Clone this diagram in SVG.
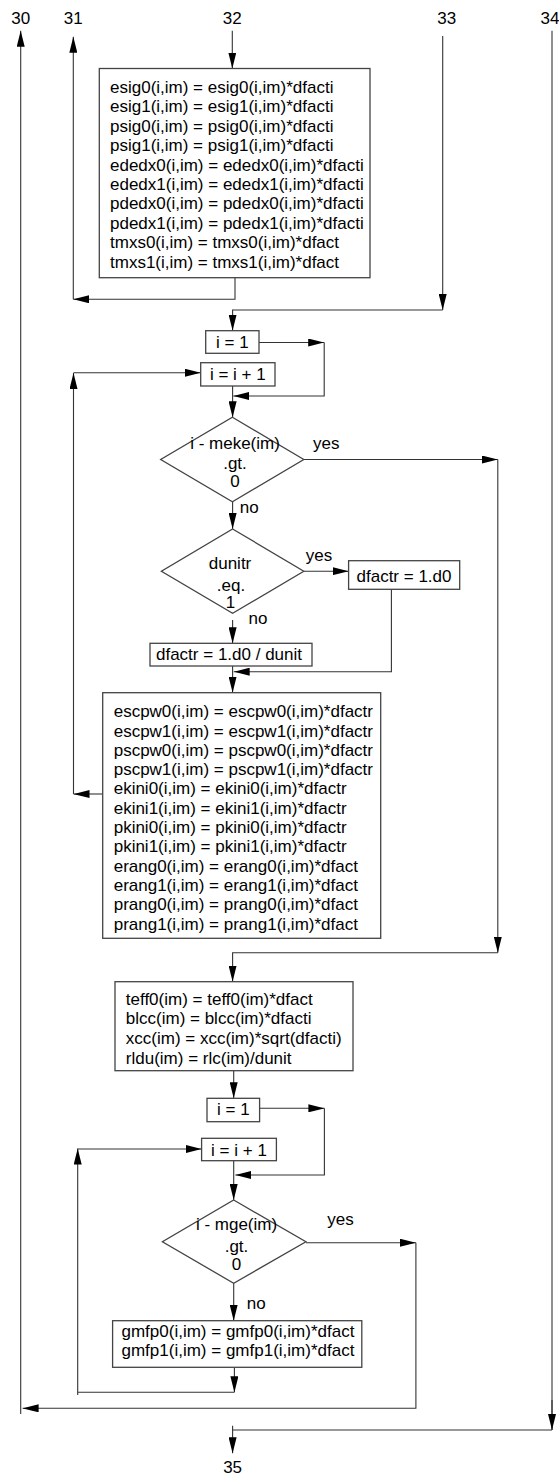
<svg xmlns="http://www.w3.org/2000/svg" width="559" height="1478" viewBox="0 0 559 1478">
<style>
text{font-family:"Liberation Sans",Arial,sans-serif;font-size:17px;fill:#000}
.c{text-anchor:middle}
.box{fill:#fff;stroke:#444;stroke-width:1.3}
.ln{fill:none;stroke:#333;stroke-width:1.1}
.ar{fill:none;stroke:#333;stroke-width:1.1;marker-end:url(#ah)}
</style>
<defs>
<marker id="ah" markerUnits="userSpaceOnUse" markerWidth="16" markerHeight="8" refX="16" refY="4" orient="auto">
<path d="M0,0 L16,4 L0,8 z" fill="#000"/>
</marker>
</defs>
<rect width="559" height="1478" fill="#fff"/>
<g id="connectors">
<line class="ar" x1="20.7" y1="1414" x2="20.7" y2="30.7"/>
<line class="ar" x1="73.3" y1="299.3" x2="73.3" y2="36.7"/>
<line class="ar" x1="232.3" y1="30.7" x2="232.3" y2="68.5"/>
<line class="ar" x1="442.7" y1="36" x2="442.7" y2="310"/>
<polyline class="ln" points="552,30.7 552,1430"/>
<polyline class="ar" points="235,277.7 235,299.3 73.3,299.3"/>
<polyline class="ar" points="442.7,310 232.6,310 232.6,330.7"/>
<polyline class="ar" points="259,342.5 324.2,342.5"/>
<polyline class="ar" points="324.2,342.5 324.2,396 233.4,396"/>
<line class="ar" x1="232.6" y1="386" x2="232.6" y2="417.3"/>
<line class="ar" x1="102.7" y1="794" x2="73.5" y2="794"/>
<line class="ar" x1="73.5" y1="794" x2="73.5" y2="373"/>
<line class="ar" x1="73.5" y1="372.7" x2="200.7" y2="372.7"/>
<line class="ar" x1="303.8" y1="459.5" x2="497.8" y2="459.5"/>
<line class="ar" x1="497.8" y1="459.5" x2="497.8" y2="952.7"/>
<polyline class="ar" points="497.8,952.7 232.6,952.7 232.6,981.7"/>
<line class="ar" x1="232.6" y1="501.7" x2="232.6" y2="529"/>
<line class="ar" x1="303.8" y1="571.2" x2="348.6" y2="571.2"/>
<polyline class="ar" points="391.4,589.3 391.4,671.7 233.7,671.7"/>
<line class="ar" x1="232.6" y1="620" x2="232.6" y2="643.3"/>
<line class="ar" x1="232.6" y1="666" x2="232.6" y2="692.7"/>
<line class="ar" x1="233.7" y1="1070.7" x2="233.7" y2="1098.3"/>
<polyline class="ar" points="259.6,1108.3 324.4,1108.3"/>
<polyline class="ar" points="324.4,1108.3 324.4,1175 235.4,1175"/>
<line class="ar" x1="233.7" y1="1160.7" x2="233.7" y2="1200"/>
<line class="ar" x1="305.9" y1="1242.7" x2="415.9" y2="1242.7"/>
<polyline class="ar" points="415.9,1242.7 415.9,1408.3 22.6,1408.3"/>
<line class="ar" x1="233.7" y1="1283.3" x2="233.7" y2="1320.7"/>
<line class="ar" x1="234.4" y1="1367.3" x2="234.4" y2="1392.3"/>
<polyline class="ar" points="234.4,1392.3 77.7,1392.3 77.7,1148.5"/>
<line class="ln" x1="77.7" y1="1392.3" x2="77.7" y2="1395"/>
<line class="ar" x1="77.7" y1="1149" x2="201.6" y2="1149"/>
<line class="ar" x1="552" y1="1400" x2="552" y2="1430"/>
<polyline class="ln" points="552,1430 232.6,1430 232.6,1425.7"/>
<line class="ar" x1="232.6" y1="1430" x2="232.6" y2="1453.3"/>
</g>
<g id="labels">
<text class="c" x="20.7" y="23.5">30</text>
<text class="c" x="73.3" y="23.5">31</text>
<text class="c" x="232.3" y="23.5">32</text>
<text class="c" x="446.7" y="23.5">33</text>
<text class="c" x="550" y="23.5">34</text>
<text class="c" x="232.6" y="1472.5">35</text>
</g>
<g id="box1">
<rect class="box" x="99.3" y="68.5" width="270.7" height="209.2"/>
<text x="110" y="93">esig0(i,im) = esig0(i,im)*dfacti</text>
<text x="110" y="112.4">esig1(i,im) = esig1(i,im)*dfacti</text>
<text x="110" y="131.8">psig0(i,im) = psig0(i,im)*dfacti</text>
<text x="110" y="151.2">psig1(i,im) = psig1(i,im)*dfacti</text>
<text x="110" y="170.6">ededx0(i,im) = ededx0(i,im)*dfacti</text>
<text x="110" y="190">ededx1(i,im) = ededx1(i,im)*dfacti</text>
<text x="110" y="209.4">pdedx0(i,im) = pdedx0(i,im)*dfacti</text>
<text x="110" y="228.8">pdedx1(i,im) = pdedx1(i,im)*dfacti</text>
<text x="110" y="248.2">tmxs0(i,im) = tmxs0(i,im)*dfact</text>
<text x="110" y="267.6">tmxs1(i,im) = tmxs1(i,im)*dfact</text>
</g>
<g id="init1">
<rect class="box" x="205.7" y="330.7" width="53.3" height="22.6"/>
<text class="c" x="232.3" y="348">i = 1</text>
</g>
<g id="incr1">
<rect class="box" x="200.7" y="362.7" width="74.3" height="23.3"/>
<text class="c" x="237.8" y="380">i = i + 1</text>
</g>
<g id="dec1">
<polygon class="box" points="232.4,417.3 303.8,459.5 232.4,501.7 160.7,459.5"/>
<text class="c" x="235" y="448.8">i - meke(im)</text>
<text class="c" x="235" y="468.8">.gt.</text>
<text class="c" x="235" y="487.2">0</text>
<text x="313" y="448.8">yes</text>
<text x="239.7" y="513">no</text>
</g>
<g id="dec2">
<polygon class="box" points="232.6,529 303.8,571.2 232.6,613.3 161.4,571.2"/>
<text class="c" x="230" y="569">dunitr</text>
<text class="c" x="231" y="590.5">.eq.</text>
<text class="c" x="230.5" y="607.5">1</text>
<text x="305.7" y="560.5">yes</text>
<text x="248.6" y="623.5">no</text>
</g>
<g id="set1">
<rect class="box" x="348.6" y="560.7" width="111.1" height="28.6"/>
<text class="c" x="404" y="582">dfactr = 1.d0</text>
</g>
<g id="set2">
<rect class="box" x="150" y="643.3" width="162" height="22.7"/>
<text class="c" x="229" y="659.5">dfactr = 1.d0 / dunit</text>
</g>
<g id="box2">
<rect class="box" x="102.7" y="692.7" width="278" height="245.6"/>
<text x="113.7" y="717.2">escpw0(i,im) = escpw0(i,im)*dfactr</text>
<text x="113.7" y="736.5">escpw1(i,im) = escpw1(i,im)*dfactr</text>
<text x="113.7" y="755.8">pscpw0(i,im) = pscpw0(i,im)*dfactr</text>
<text x="113.7" y="775.1">pscpw1(i,im) = pscpw1(i,im)*dfactr</text>
<text x="113.7" y="794.4">ekini0(i,im) = ekini0(i,im)*dfactr</text>
<text x="113.7" y="813.7">ekini1(i,im) = ekini1(i,im)*dfactr</text>
<text x="113.7" y="833">pkini0(i,im) = pkini0(i,im)*dfactr</text>
<text x="113.7" y="852.3">pkini1(i,im) = pkini1(i,im)*dfactr</text>
<text x="113.7" y="871.6">erang0(i,im) = erang0(i,im)*dfact</text>
<text x="113.7" y="890.9">erang1(i,im) = erang1(i,im)*dfact</text>
<text x="113.7" y="910.2">prang0(i,im) = prang0(i,im)*dfact</text>
<text x="113.7" y="929.5">prang1(i,im) = prang1(i,im)*dfact</text>
</g>
<g id="box3">
<rect class="box" x="115" y="981.7" width="238" height="89"/>
<text x="125.8" y="1004.8">teff0(im) = teff0(im)*dfact</text>
<text x="125.8" y="1024.4">blcc(im) = blcc(im)*dfacti</text>
<text x="125.8" y="1044">xcc(im) = xcc(im)*sqrt(dfacti)</text>
<text x="125.8" y="1063.6">rldu(im) = rlc(im)/dunit</text>
</g>
<g id="init2">
<rect class="box" x="207" y="1098.3" width="52.6" height="23.4"/>
<text class="c" x="233.3" y="1115">i = 1</text>
</g>
<g id="incr2">
<rect class="box" x="201.6" y="1138.3" width="74.8" height="22.4"/>
<text class="c" x="239" y="1155.5">i = i + 1</text>
</g>
<g id="dec3">
<polygon class="box" points="233.7,1200 305.9,1241.7 233.7,1283.3 162.4,1241.7"/>
<text class="c" x="236.5" y="1229.8">i - mge(im)</text>
<text class="c" x="236.5" y="1251.5">.gt.</text>
<text class="c" x="236.5" y="1269.5">0</text>
<text x="327.3" y="1224.8">yes</text>
<text x="246.8" y="1308.5">no</text>
</g>
<g id="box4">
<rect class="box" x="112.6" y="1320.7" width="249.2" height="46.6"/>
<text x="121.5" y="1336.5">gmfp0(i,im) = gmfp0(i,im)*dfact</text>
<text x="121.5" y="1355.8">gmfp1(i,im) = gmfp1(i,im)*dfact</text>
</g>
</svg>
